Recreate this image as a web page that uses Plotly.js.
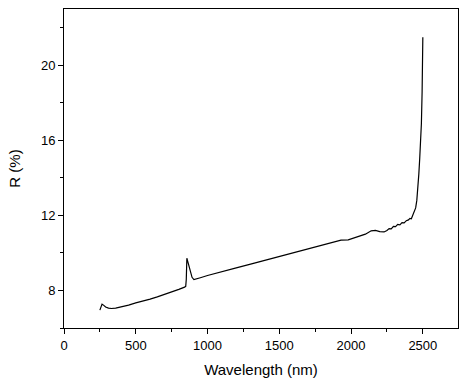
<!DOCTYPE html>
<html>
<head>
<meta charset="utf-8">
<script src="https://cdn.plot.ly/plotly-3.0.1.min.js"></script>
<style>html,body{margin:0;padding:0;background:#fff;}#chart{width:470px;height:386px;}</style>
</head>
<body>
<div id="chart"></div>
<script>
const wavelength = [250, 258, 265, 275, 290, 310, 330, 360, 400, 450, 500, 550, 600, 650, 700, 750, 800, 840, 848, 852, 856, 862, 870, 880, 892, 905, 920, 950, 1000, 1100, 1200, 1300, 1400, 1500, 1600, 1700, 1800, 1900, 1930, 1980, 2050, 2100, 2140, 2170, 2200, 2230, 2250, 2265, 2280, 2295, 2310, 2325, 2340, 2355, 2370, 2385, 2400, 2410, 2420, 2430, 2440, 2450, 2458, 2465, 2472, 2478, 2484, 2490, 2495, 2500];
const reflectance = [6.95, 7.15, 7.27, 7.22, 7.12, 7.06, 7.04, 7.06, 7.12, 7.22, 7.34, 7.42, 7.54, 7.66, 7.78, 7.92, 8.06, 8.18, 8.22, 8.6, 9.72, 9.55, 9.35, 9.1, 8.7, 8.58, 8.6, 8.68, 8.8, 9.02, 9.2, 9.4, 9.6, 9.8, 10.02, 10.22, 10.4, 10.58, 10.68, 10.7, 10.86, 11.0, 11.18, 11.2, 11.14, 11.12, 11.2, 11.3, 11.28, 11.42, 11.4, 11.52, 11.5, 11.62, 11.6, 11.72, 11.76, 11.84, 11.82, 12.05, 12.2, 12.4, 12.8, 13.4, 14.2, 15.0, 15.9, 16.9, 18.6, 21.5];
const xTitle = 'Wavelength (nm)';
const yTitle = 'R (%)';

const font = 'Arial, "Liberation Sans", sans-serif';
Plotly.newPlot('chart', [{
  x: wavelength, y: reflectance, type: 'scatter', mode: 'lines',
  line: {color: '#000', width: 1.2}, hoverinfo: 'skip'
}], {
  width: 470, height: 386,
  margin: {l: 64, r: 12, t: 9, b: 58},
  paper_bgcolor: '#fff', plot_bgcolor: '#fff',
  showlegend: false,
  font: {family: font, color: '#000', size: 13},
  xaxis: {
    range: [0, 2745], tick0: 0, dtick: 500, ticks: 'outside', ticklen: 5, tickwidth: 1, tickcolor: '#000',
    minor: {dtick: 250, ticks: 'outside', ticklen: 3, tickcolor: '#000', tickwidth: 1},
    showline: true, linecolor: '#000', linewidth: 1, mirror: true, showgrid: false, zeroline: false,
    tickfont: {size: 13, family: font},
    title: {text: xTitle, font: {size: 15, family: font}, standoff: 12}
  },
  yaxis: {
    range: [6, 23], tick0: 8, dtick: 4, ticks: 'outside', ticklen: 5, tickwidth: 1, tickcolor: '#000',
    minor: {dtick: 2, ticks: 'outside', ticklen: 3, tickcolor: '#000', tickwidth: 1},
    showline: true, linecolor: '#000', linewidth: 1, mirror: true, showgrid: false, zeroline: false,
    tickfont: {size: 13, family: font},
    title: {text: yTitle, font: {size: 15, family: font}, standoff: 16}
  }
}, {staticPlot: true, displayModeBar: false});
</script>
</body>
</html>
